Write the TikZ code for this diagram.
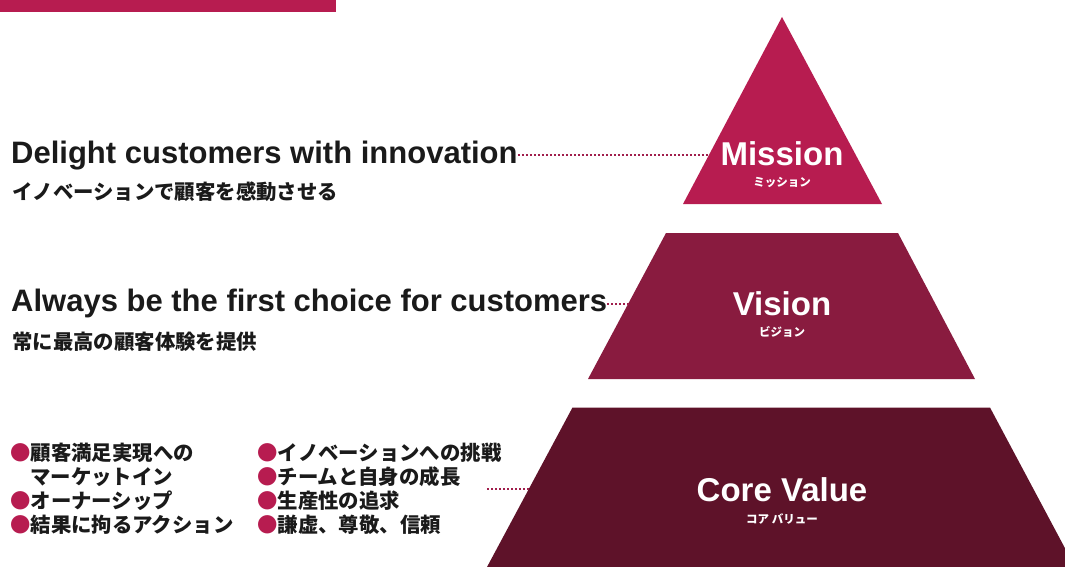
\documentclass[tikz,border=0pt]{standalone}
\usepackage{fontspec}
\setmainfont{Liberation Sans}
\newfontfamily\jafont{Noto Sans CJK JP}
\usetikzlibrary{positioning}
\definecolor{missionred}{HTML}{B71C50}
\definecolor{visionred}{HTML}{891B3F}
\definecolor{corered}{HTML}{5E1229}
\definecolor{inkgray}{HTML}{1A1A1A}
\definecolor{dotred}{HTML}{A01E4C}

\begin{document}
\begin{tikzpicture}[x=1pt, y=-1pt,
	headline/.style={anchor=base west, inner sep=0pt, font=\fontsize{31}{31}\selectfont\bfseries, text=inkgray},
	subline/.style={anchor=west, inner sep=0pt, font=\fontsize{20.4}{20.4}\selectfont\jafont\bfseries, text=inkgray},
	layername/.style={anchor=base, inner sep=0pt, font=\fontsize{33}{33}\selectfont\bfseries, text=white},
	layerkana/.style={inner sep=0pt, font=\fontsize{11.5}{11.5}\selectfont\jafont\bfseries, text=white},
	dotline/.style={dotred, line width=2pt, dash pattern=on 2pt off 2pt}]
		\clip (0,0) rectangle (1065,567);
		\fill[missionred] (0,0) rectangle (336,12.5);

		% pyramid layers
		\fill[missionred] (683,204) -- (782,17) -- (882,204) -- cycle;
		\fill[visionred] (588,379) -- (666,233) -- (898,233) -- (975,379) -- cycle;
		\fill[corered] (487,567) -- (572.5,407.5) -- (990,407.5) -- (1075,567) -- cycle;
		\coordinate (missionedge) at (708.5,155);
		\coordinate (visionedge) at (628.5,303.5);
		\coordinate (coreedge) at (529.5,489);
		\coordinate (corefree) at (487,489);

		\node[layername] (mission) at (782,165.5) {Mission};
		\node[layerkana] (missionkana) at (782,182) {ミッション};
		\node[layername] (vision) at (782,315.5) {Vision};
		\node[layerkana] (visionkana) at (782,332) {ビジョン};
		\node[layername] (core) at (782,501) {Core Value};
		\node[layerkana] (corekana) at (782,519) {コア バリュー};

		% statements
		\node[headline] (delight) at (11,163) {Delight customers with innovation};
		\node[subline] (delightja) at (12,191.5) {イノベーションで顧客を感動させる};
		\node[headline] (always) at (11,311.5) {Always be the first choice for customers};
		\node[subline] (alwaysja) at (12,341.5) {常に最高の顧客体験を提供};

		\draw[dotline] (delight.east |- missionedge) -- (missionedge);
		\draw[dotline] (always.east |- visionedge) -- (visionedge);
		\draw[dotline] (corefree) -- (coreedge);

		% core values
		\node[subline] (cv1) at (10,453) {\textcolor{missionred}{●}顧客満足実現への};
		\node[subline] (cv2) at (30,477) {マーケットイン};
		\node[subline] (cv3) at (10,500.5) {\textcolor{missionred}{●}オーナーシップ};
		\node[subline] (cv4) at (10,524.5) {\textcolor{missionred}{●}結果に拘るアクション};
		\node[subline] (cv5) at (257,453) {\textcolor{missionred}{●}イノベーションへの挑戦};
		\node[subline] (cv6) at (257,477) {\textcolor{missionred}{●}チームと自身の成長};
		\node[subline] (cv7) at (257,500.5) {\textcolor{missionred}{●}生産性の追求};
		\node[subline] (cv8) at (257,524.5) {\textcolor{missionred}{●}謙虚、尊敬、信頼};
	\end{tikzpicture}
\end{document}
